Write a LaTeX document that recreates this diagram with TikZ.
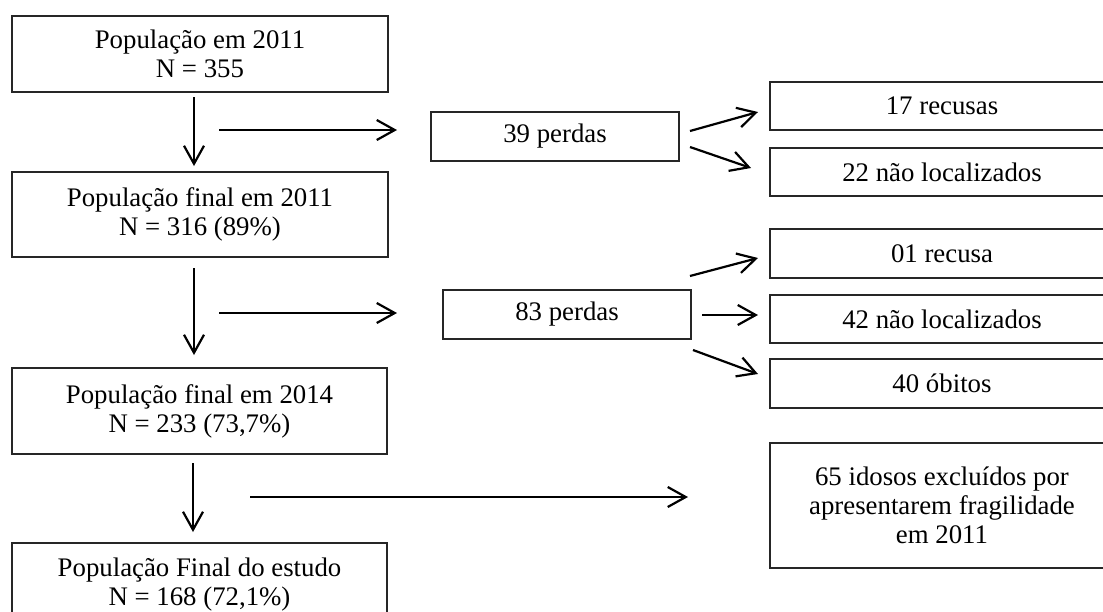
\documentclass[tikz,border=0pt]{standalone}
\usepackage{fontspec}
\setmainfont{Liberation Serif}
\usetikzlibrary{arrows.meta}
\begin{document}
\begin{tikzpicture}[x=1pt,y=-1pt,
  box/.style={draw=black!85, line width=1.3pt, rectangle, inner sep=0pt, align=center,
    font=\fontsize{26.8}{29}\selectfont},
  conn/.style={line width=2.2pt, -{Straight Barb[length=18pt,width=20pt,line width=2.2pt]}}]
\useasboundingbox (0,0) rectangle (1103,611);
\clip (0,0) rectangle (1103,611);
% left column
\node[box, minimum width=376, minimum height=76] (b1) at (200,54) {População em 2011\\N = 355};
\node[box, minimum width=376, minimum height=85] (b2) at (200,214.5) {População final em 2011\\N = 316 (89\%)};
\node[box, minimum width=375, minimum height=86] (b3) at (199.5,411) {População final em 2014\\N = 233 (73,7\%)};
\node[box, minimum width=375, minimum height=84] (b4) at (199.5,585) {População Final do estudo\\N = 168 (72,1\%)};
% middle
\node[box, minimum width=248, minimum height=49] (p39) at (555,136.5) {39 perdas};
\node[box, minimum width=248, minimum height=49] (p83) at (567,314.5) {83 perdas};
% right column
\node[box, minimum width=344, minimum height=48] (r17) at (942,106) {17 recusas};
\node[box, minimum width=344, minimum height=48] (r22) at (942,172) {22 não localizados};
\node[box, minimum width=344, minimum height=49] (r01) at (942,253.5) {01 recusa};
\node[box, minimum width=344, minimum height=48] (r42) at (942,319) {42 não localizados};
\node[box, minimum width=344, minimum height=49] (r40) at (942,383.5) {40 óbitos};
\node[box, minimum width=344, minimum height=125] (r65) at (942,505.5) {65 idosos excluídos por\\apresentarem fragilidade\\em 2011};
% connector ends
\coordinate (d1s) at (194,97);  \coordinate (d1e) at (194,166);
\coordinate (d2s) at (194,268); \coordinate (d2e) at (194,355);
\coordinate (d3s) at (193,463); \coordinate (d3e) at (193,532);
\coordinate (h1s) at (219,130); \coordinate (h1e) at (397,130);
\coordinate (h2s) at (219,313); \coordinate (h2e) at (397,313);
\coordinate (h3s) at (250,497); \coordinate (h3e) at (688,497);
\coordinate (q1s) at (690,131); \coordinate (q1e) at (758,112);
\coordinate (q2s) at (690,147); \coordinate (q2e) at (751,168);
\coordinate (q3s) at (690,276); \coordinate (q3e) at (758,258);
\coordinate (q4s) at (702,315); \coordinate (q4e) at (758,315);
\coordinate (q5s) at (693,350); \coordinate (q5e) at (758,374);
% connectors
\draw[conn] (d1s) -- (d1e);
\draw[conn] (d2s) -- (d2e);
\draw[conn] (d3s) -- (d3e);
\draw[conn] (h1s) -- (h1e);
\draw[conn] (h2s) -- (h2e);
\draw[conn] (h3s) -- (h3e);
\draw[conn] (q1s) -- (q1e);
\draw[conn] (q2s) -- (q2e);
\draw[conn] (q3s) -- (q3e);
\draw[conn] (q4s) -- (q4e);
\draw[conn] (q5s) -- (q5e);
\end{tikzpicture}
\end{document}
